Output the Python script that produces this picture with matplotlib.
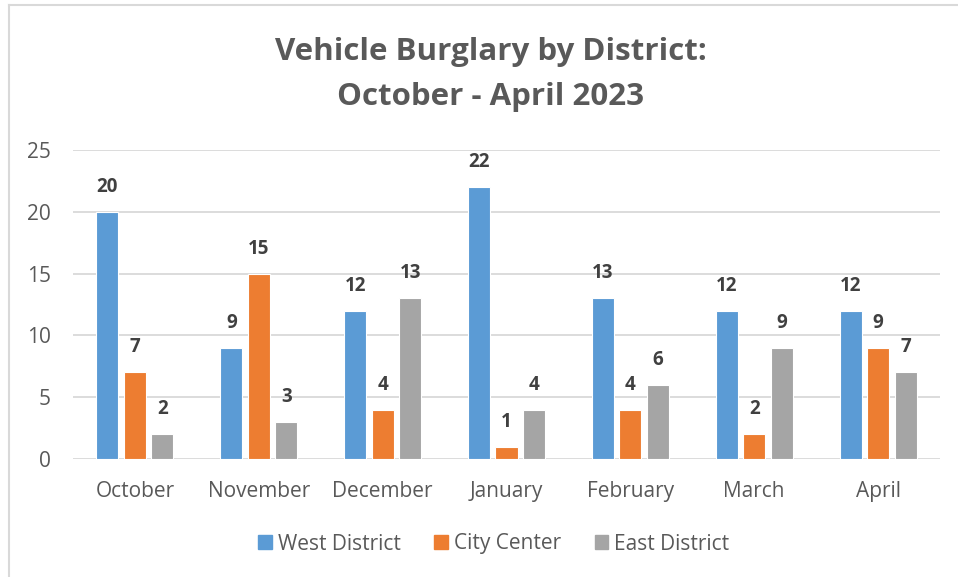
import matplotlib
matplotlib.use("Agg")
import matplotlib.pyplot as plt
import numpy as np
from matplotlib.patches import Rectangle
from matplotlib.lines import Line2D

months = ["October", "November", "December", "January", "February", "March", "April"]
west = [20, 9, 12, 22, 13, 12, 12]
city = [7, 15, 4, 1, 4, 2, 9]
east = [2, 3, 13, 4, 6, 9, 7]
series_names = ["West District", "City Center", "East District"]
colors = ["#5B9BD5", "#ED7D31", "#A5A5A5"]
yticks = [0, 5, 10, 15, 20, 25]

plt.rcParams['font.family'] = ['Open Sans', 'DejaVu Sans']

W, H = 958, 577
fig = plt.figure(figsize=(W / 100, H / 100), dpi=100)
fig.patch.set_facecolor("white")

# chart border (left and top visible)
fig.add_artist(Line2D([9 / W, 9 / W], [0, 1 - 5 / H], transform=fig.transFigure, color="#D9D9D9", lw=1.5))
fig.add_artist(Line2D([9 / W, 1], [1 - 5 / H, 1 - 5 / H], transform=fig.transFigure, color="#D9D9D9", lw=1.5))

ax = fig.add_axes([73 / W, 1 - 459 / H, (940 - 73) / W, (459 - 150) / H])
x = np.arange(len(months))
step = 0.222
width = 0.178
data = [west, city, east]
for i, (vals, name, c) in enumerate(zip(data, series_names, colors)):
    bars = ax.bar(x + (i - 1) * step, vals, width, color=c, edgecolor="white", linewidth=0.8, label=name, zorder=3)
    for b, v in zip(bars, vals):
        ax.annotate(str(v), (b.get_x() + b.get_width() / 2, v), xytext=(0, 18), textcoords="offset points",
                    ha="center", va="center", fontsize=13.5, fontweight="bold", color="#404040")

ax.set_xlim(-0.5, len(months) - 0.5)
ax.set_ylim(0, 25)
ax.set_yticks(yticks)
ax.set_xticks(x)
ax.set_xticklabels(months)
ax.grid(axis="y", color="#D9D9D9", lw=1.3, zorder=0)
for s in ax.spines.values():
    s.set_visible(False)
ax.tick_params(axis="both", length=0, labelsize=15, colors="#595959")
ax.tick_params(axis="y", pad=16)
ax.tick_params(axis="x", pad=15.5)

fig.text(491 / W, 1 - 52 / H, "Vehicle Burglary by District:", ha="center", va="center",
         fontsize=22.5, fontweight="bold", color="#595959")
fig.text(491 / W, 1 - 97 / H, "October - April 2023", ha="center", va="center",
         fontsize=22.5, fontweight="bold", color="#595959")

handles = [Rectangle((0, 0), 1, 1, color=c) for c in colors]
fig.legend(handles, series_names, loc="center", bbox_to_anchor=(494 / W, 1 - 544 / H), ncol=3, frameon=False,
           fontsize=15, labelcolor="#595959", handlelength=0.65, handleheight=0.65, handletextpad=0.3,
           columnspacing=1.6)

fig.savefig("out.png", dpi=100, facecolor="white")
